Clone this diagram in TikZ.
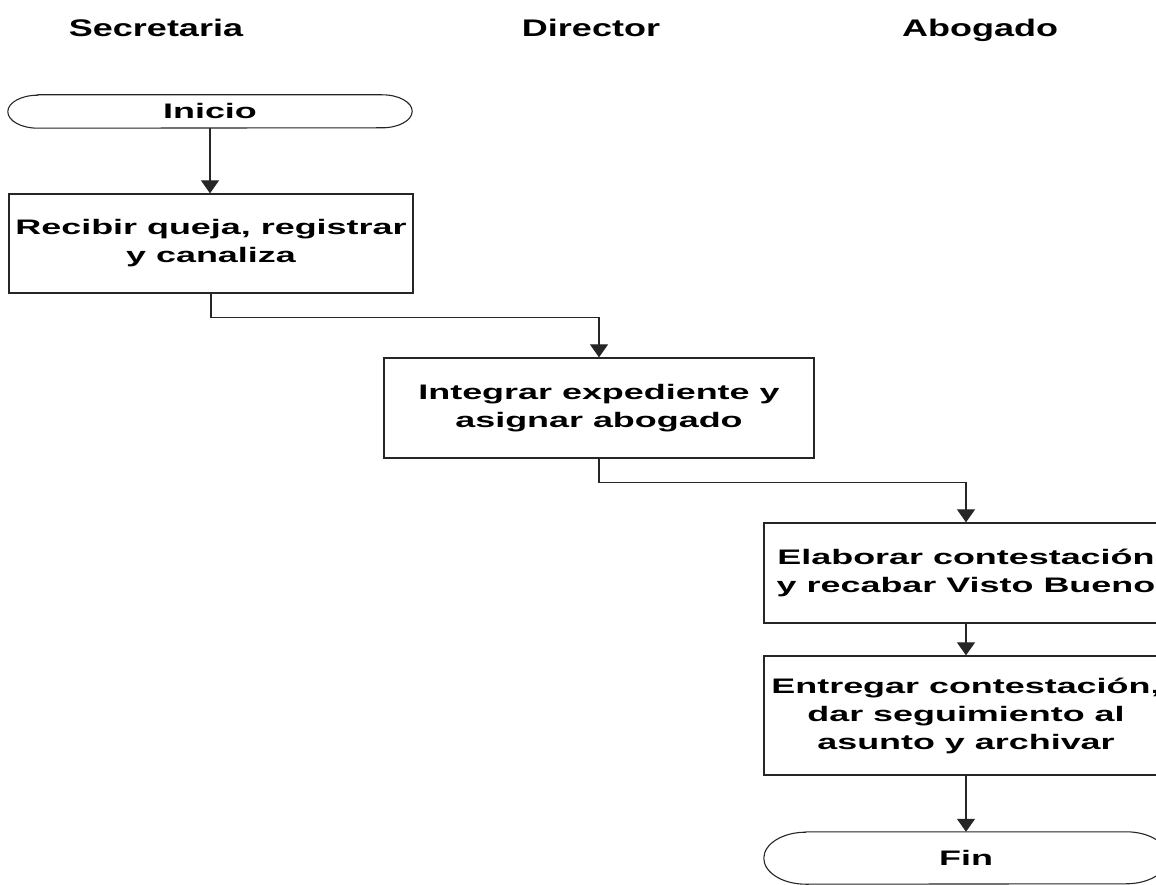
\documentclass[tikz,border=0pt]{standalone}
\usepackage{fontspec}
\usetikzlibrary{arrows.meta}
\newfontfamily\bodyfont[FakeStretch=1.71]{Liberation Sans Bold}
\newfontfamily\headfont[FakeStretch=1.50]{Liberation Sans Bold}
\begin{document}
\begin{tikzpicture}[x=1pt,y=1pt,
  lanehead/.style={font=\headfont\fontsize{24}{28}\selectfont, anchor=base, inner sep=0},
  stepbox/.style={draw=black!85, line width=1.3pt, fill=white, align=center,
    font=\bodyfont\fontsize{21}{28}\selectfont, minimum width=404pt, inner sep=0},
  termnode/.style={align=center, font=\bodyfont\fontsize{21}{28}\selectfont,
    minimum width=404pt, inner sep=0},
  termline/.style={draw=black!85, line width=1.1pt},
  flow/.style={line width=1.2pt, draw=black!85,
    -{Triangle[width=18pt,length=13pt]}}]
\useasboundingbox (0,0) rectangle (1156,884);
\clip (0,0) rectangle (1156,884);

% swimlane titles
\node[lanehead] (hsec) at (156,847) {Secretaria};
\node[lanehead] (hdir) at (591,847) {Director};
\node[lanehead] (habo) at (980,847) {Abogado};

% start terminal
\node[termnode, minimum height=33pt] (ini) at (210,772.5) {Inicio};
\draw[termline] ([xshift=30pt]ini.north west) -- ([xshift=-30pt]ini.north east)
  arc[start angle=90, end angle=-90, x radius=30, y radius=16.5]
  -- ([xshift=30pt]ini.south west)
  arc[start angle=270, end angle=90, x radius=30, y radius=16.5] -- cycle;

% process steps
\node[stepbox, minimum height=99pt] (b1) at (211,640.5)
  {Recibir queja, registrar\\y canaliza};
\node[stepbox, minimum width=430pt, minimum height=100pt] (b2) at (599,476)
  {Integrar expediente y\\asignar abogado};
\node[stepbox, minimum height=100pt] (b3) at (966,311)
  {Elaborar contestación\\y recabar Visto Bueno};
\node[stepbox, minimum height=119pt] (b4) at (966,168.5)
  {Entregar contestación,\\dar seguimiento al\\asunto y archivar};

% end terminal
\node[termnode, minimum height=52pt] (fin) at (966,26) {Fin};
\draw[termline] ([xshift=42pt]fin.north west) -- ([xshift=-42pt]fin.north east)
  arc[start angle=90, end angle=-90, x radius=42, y radius=26]
  -- ([xshift=42pt]fin.south west)
  arc[start angle=270, end angle=90, x radius=42, y radius=26] -- cycle;

% connectors
\draw[flow] (ini.south) -- (b1.north -| ini.south);
\draw[flow] (b1.south) -- ++(0,-24) -| (b2.north);
\draw[flow] (b2.south) -- ++(0,-24) -| (b3.north);
\draw[flow] (b3.south) -- (b4.north);
\draw[flow] (b4.south) -- (fin.north);
\end{tikzpicture}
\end{document}
